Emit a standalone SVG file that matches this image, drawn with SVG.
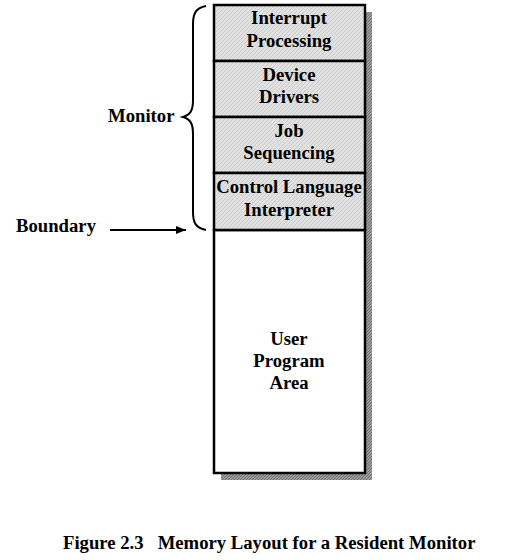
<svg xmlns="http://www.w3.org/2000/svg" width="505" height="560" viewBox="0 0 505 560">
<style>
text{font-family:"Liberation Serif","Times New Roman",serif;font-weight:bold;font-size:18.7px;fill:#000}
.c{text-anchor:middle}
.seg{fill:url(#hatch);stroke:#000;stroke-width:2.5}
</style>
<defs>
<pattern id="hatch" width="4" height="4" patternUnits="userSpaceOnUse">
<rect width="4" height="4" fill="#e2e2e2"/>
<path d="M0,4 L4,0" stroke="#c4c4c4" stroke-width="0.8"/>
</pattern>
<pattern id="shade" width="3" height="3" patternUnits="userSpaceOnUse">
<rect width="3" height="3" fill="#9a9a9a"/>
<path d="M0,3 L3,0" stroke="#6a6a6a" stroke-width="0.8"/>
</pattern>
<marker id="ah" markerWidth="10" markerHeight="8" refX="10" refY="4" orient="auto" markerUnits="userSpaceOnUse">
<path d="M0,0 L10,4 L0,8 z" fill="#000"/>
</marker>
</defs>
<rect x="221" y="12" width="151" height="468" fill="url(#shade)"/>
<g id="user">
<rect x="214" y="230" width="151" height="243" fill="#fff" stroke="#000" stroke-width="2.5"/>
<text class="c" x="289" y="345">User</text>
<text class="c" x="289" y="367">Program</text>
<text class="c" x="289" y="389">Area</text>
</g>
<g id="interrupt">
<rect class="seg" x="214" y="5" width="151" height="56"/>
<text class="c" x="289" y="24">Interrupt</text>
<text class="c" x="289" y="47">Processing</text>
</g>
<g id="drivers">
<rect class="seg" x="214" y="61" width="151" height="56"/>
<text class="c" x="289" y="81">Device</text>
<text class="c" x="289" y="103">Drivers</text>
</g>
<g id="job">
<rect class="seg" x="214" y="117" width="151" height="56"/>
<text class="c" x="289" y="137">Job</text>
<text class="c" x="289" y="159">Sequencing</text>
</g>
<g id="cli">
<rect class="seg" x="214" y="173" width="151" height="57"/>
<text class="c" x="289" y="193">Control Language</text>
<text class="c" x="289" y="216">Interpreter</text>
</g>
<g id="monitor">
<path d="M206,6 C196,8 193,13 193,24 L193,100 C193,111 190,115 183,117 C190,119 193,123 193,134 L193,212 C193,223 196,228 206,230" fill="none" stroke="#000" stroke-width="2"/>
<text x="108" y="122">Monitor</text>
</g>
<g id="boundary">
<text x="16" y="232">Boundary</text>
</g>
<g id="connectors">
<line x1="110" y1="230" x2="186" y2="230" stroke="#000" stroke-width="2" marker-end="url(#ah)"/>
</g>
<text x="63" y="549" xml:space="preserve">Figure 2.3   Memory Layout for a Resident Monitor</text>
</svg>
